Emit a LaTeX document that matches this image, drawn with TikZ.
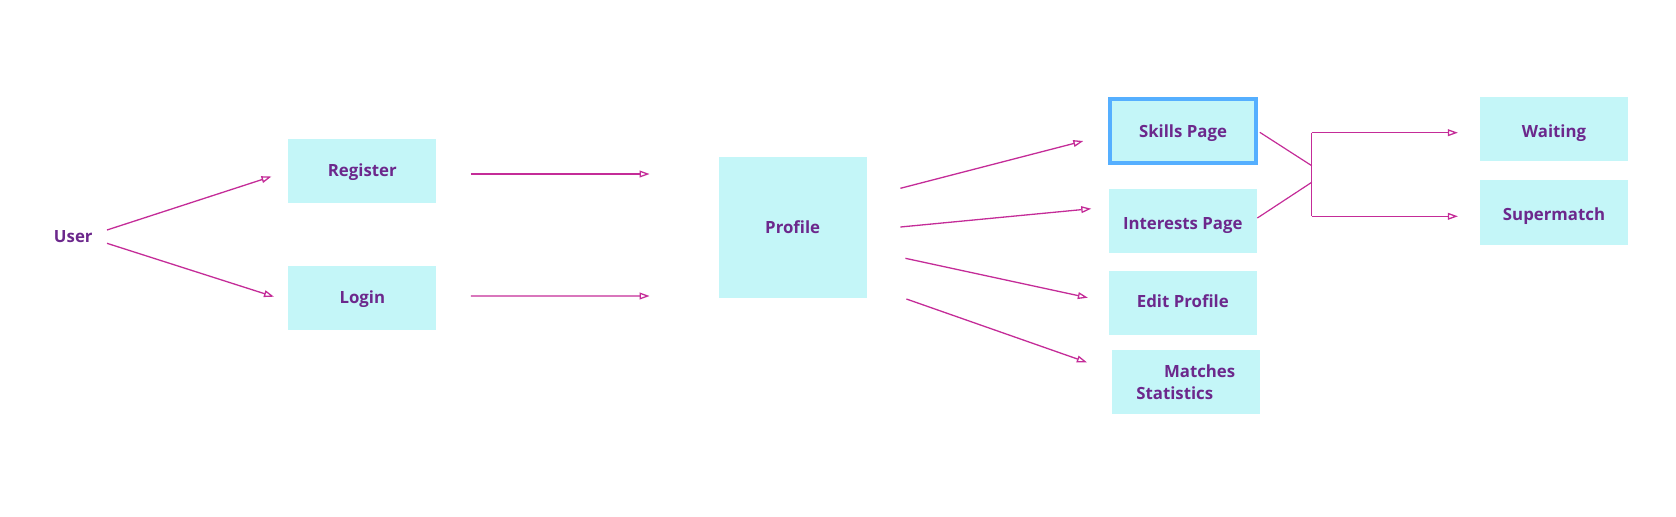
\documentclass[tikz,border=0pt]{standalone}
\usepackage{fontspec}
\setmainfont{Open Sans}
\usetikzlibrary{arrows.meta,calc}
\definecolor{linec}{RGB}{196,44,152}
\definecolor{textc}{RGB}{108,40,140}
\definecolor{boxfill}{RGB}{196,246,248}
\definecolor{skillblue}{RGB}{85,175,255}
\begin{document}
\begin{tikzpicture}[x=0.5pt,y=-0.5pt,
  lbl/.style={font=\bfseries\fontsize{8.4}{11}\selectfont, text=textc},
  box/.style={lbl, fill=boxfill, draw=none, minimum width=73.85pt, minimum height=32pt, inner sep=0pt},
  onebox/.style={box, text height=6pt, text depth=0pt},
  conn/.style={draw=linec, line width=0.65pt, -{Triangle[open,length=5pt,width=3.4pt]}},
  plainline/.style={draw=linec, line width=0.6pt}]
\useasboundingbox (0,0) rectangle (1676,516);

\node[lbl, inner sep=0pt] (user) at (73.3,236.7) {User};
\node[onebox] (register) at (362.3,171) {\raisebox{0.4pt}{Register}};
\node[onebox] (login) at (362.3,298.3) {\raisebox{0.6pt}{Login}};
\node[onebox, minimum width=74pt, minimum height=70.3pt] (profile) at (792.7,227.7) {Profile};
\node[onebox, draw=skillblue, line width=2pt, minimum width=73.3pt, minimum height=31.85pt] (skills) at (1183,131.2) {Skills Page};
\node[onebox] (interests) at (1182.8,221.3) {\raisebox{-1.3pt}{Interests Page}};
\node[onebox] (edit) at (1182.8,303) {\raisebox{0.6pt}{Edit Profile}};
\node[box, align=left] (matches) at (1185.8,382.2) {\hspace*{13.85pt}Matches\\Statistics};
\node[onebox, minimum width=74pt, minimum height=32.15pt] (waiting) at (1554,129.2) {\raisebox{-1.2pt}{Waiting}};
\node[onebox, minimum width=74pt, minimum height=32.15pt] (supermatch) at (1554,212.5) {\raisebox{-0.8pt}{Supermatch}};

% user to register / login
\draw[conn] ($(user.east)+(14,-6.7)$) -- ($(register.west)+(-16.6,5.5)$);
\draw[conn] ($(user.east)+(14,6.6)$) -- ($(login.west)+(-14.1,-1.6)$);
% register / login to profile
\draw[conn] ($(register.east)+(34.3,3)$) -- ($(profile.west)+(-68.7,-53.7)$);
\draw[conn] ($(login.east)+(34.3,-2.3)$) -- ($(profile.west)+(-68.7,68.3)$);
% profile to pages
\draw[conn] ($(profile.east)+(33.3,-39.4)$) -- ($(skills.west)+(-24.4,9.8)$);
\draw[conn] ($(profile.east)+(33.3,-0.7)$) -- ($(interests.west)+(-17.3,-12.6)$);
\draw[conn] ($(profile.east)+(38.3,30.6)$) -- ($(edit.west)+(-20.7,-5.3)$);
\draw[conn] ($(profile.east)+(39.3,71.3)$) -- ($(matches.west)+(-24.7,-19.9)$);
% skills / interests to waiting / supermatch
\coordinate (jt) at (1311.7,132.7);
\coordinate (jb) at (1311.7,216.3);
\coordinate (js) at (1311.7,165.7);
\coordinate (ji) at (1311.7,182.3);
\draw[plainline] ($(skills.east)+(1.5,1.1)$) -- (js);
\draw[plainline] ($(interests.east)+(0.3,-3.3)$) -- (ji);
\draw[plainline] (jt) -- (jb);
\draw[conn] (jt) -- ($(waiting.west)+(-21.7,3.5)$);
\draw[conn] (jb) -- ($(supermatch.west)+(-21.7,3.8)$);
\end{tikzpicture}
\end{document}
